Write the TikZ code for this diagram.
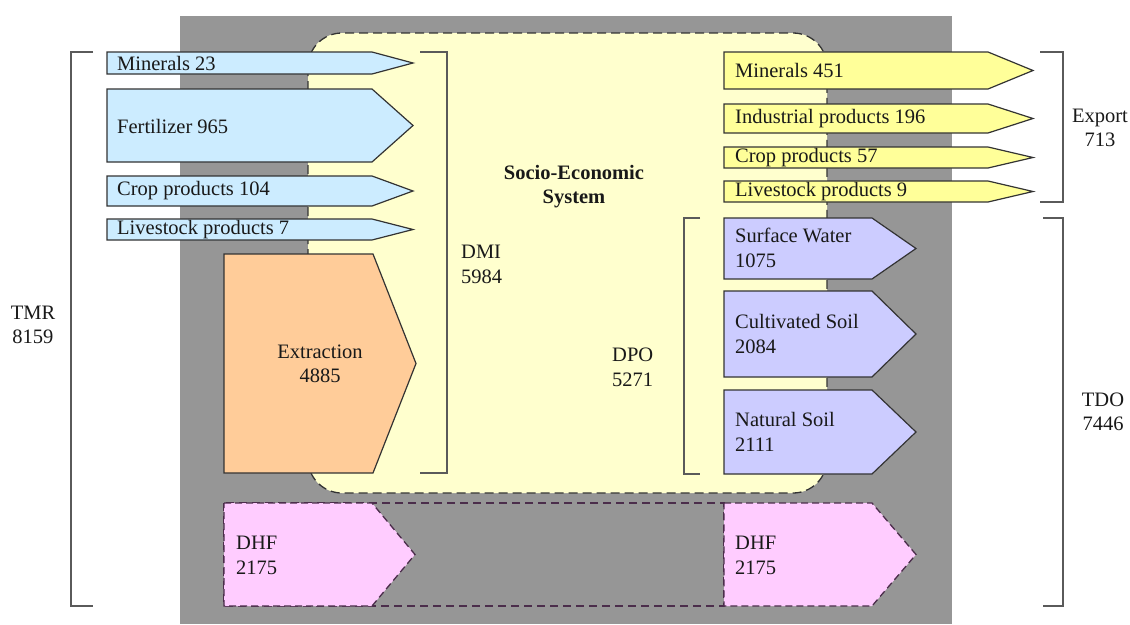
\documentclass[tikz,border=0pt]{standalone}
\usepackage{fontspec}
\setmainfont{Liberation Serif}
\definecolor{bggray}{RGB}{150,150,150}
\definecolor{sysyellow}{RGB}{255,255,206}
\definecolor{inblue}{RGB}{204,236,255}
\definecolor{outyellow}{RGB}{255,255,153}
\definecolor{dpoviolet}{RGB}{204,204,255}
\definecolor{extorange}{RGB}{255,204,153}
\definecolor{dhfpink}{RGB}{255,204,255}
\definecolor{edgecol}{RGB}{51,51,51}
\definecolor{dhfedge}{RGB}{75,45,75}
\definecolor{brackcol}{RGB}{90,90,90}
\definecolor{txtcol}{RGB}{25,25,25}
\newcommand{\flowarrow}[6]{\filldraw[#1] (#2,#3) -- (#4,#3) -- (#5,{(#3+#6)/2}) -- (#4,#6) -- (#2,#6) -- cycle;}
\begin{document}
\begin{tikzpicture}[x=1pt,y=-1pt,
  flow/.style={draw=edgecol,line width=1.2pt,line join=miter},
  dflow/.style={draw=dhfedge,line width=1.3pt,dash pattern=on 7pt off 4pt,fill=dhfpink},
  lbl/.style={font=\fontsize{20.5}{25}\selectfont,inner sep=0pt,align=left,text=txtcol},
  clbl/.style={font=\fontsize{20.5}{24}\selectfont,inner sep=0pt,align=center,text=txtcol},
  brack/.style={draw=brackcol,line width=1.5pt}]
\useasboundingbox (0,0) rectangle (1130,624);
\fill[white] (0,0) rectangle (1130,624);
% background system
\fill[bggray] (180,16) rectangle (952,624);
% socio-economic system
\filldraw[fill=sysyellow,draw=edgecol,line width=1.3pt,dash pattern=on 9pt off 5pt,rounded corners=34pt] (308,33) rectangle (827,493);
% DHF band
\draw[draw=dhfedge,line width=1.3pt,dash pattern=on 8pt off 5pt] (224,503) rectangle (724,606);
% inputs
\flowarrow{flow,fill=inblue}{107}{52}{372}{413}{74}
\flowarrow{flow,fill=inblue}{107}{89}{372}{413}{162}
\flowarrow{flow,fill=inblue}{107}{176}{372}{413}{206}
\flowarrow{flow,fill=inblue}{107}{219}{372}{413}{240}
\flowarrow{flow,fill=extorange}{224}{254}{373}{416}{473}
% exports
\flowarrow{flow,fill=outyellow}{724}{52}{988}{1033}{89}
\flowarrow{flow,fill=outyellow}{724}{104}{988}{1033}{133}
\flowarrow{flow,fill=outyellow}{724}{147}{988}{1033}{168}
\flowarrow{flow,fill=outyellow}{724}{181}{988}{1033}{202}
% DPO
\flowarrow{flow,fill=dpoviolet}{724}{218}{872}{916}{279}
\flowarrow{flow,fill=dpoviolet}{724}{291}{872}{916}{377}
\flowarrow{flow,fill=dpoviolet}{724}{390}{872}{916}{474}
% DHF
\flowarrow{dflow}{224}{503}{372}{415}{606}
\flowarrow{dflow}{724}{503}{872}{916}{606}
% brackets
\draw[brack] (93,52) -- (71,52) -- (71,606) -- (93,606);
\draw[brack] (420,52) -- (447,52) -- (447,473) -- (420,473);
\draw[brack] (1040,52) -- (1063,52) -- (1063,202) -- (1040,202);
\draw[brack] (700,218) -- (684,218) -- (684,474) -- (700,474);
\draw[brack] (1043,218) -- (1063,218) -- (1063,606) -- (1043,606);
% labels
\node[lbl,anchor=west] (min23) at (117,63) {Minerals 23};
\node[lbl,anchor=west] (fert) at (117,126) {Fertilizer 965};
\node[lbl,anchor=west] (crop104) at (117,191) {Crop products 104};
\node[lbl,anchor=west] (live7) at (117,229.5) {Livestock products 7};
\node[clbl] (extr) at (320,364) {Extraction\\4885};
\node[lbl,anchor=west] (min451) at (735,70.5) {Minerals 451};
\node[lbl,anchor=west] (ind) at (735,118.5) {Industrial products 196};
\node[lbl,anchor=west] (crop57) at (735,157.5) {Crop products 57};
\node[lbl,anchor=west] (live9) at (735,191.5) {Livestock products 9};
\node[lbl,anchor=west] (sw) at (735,248) {Surface Water\\1075};
\node[lbl,anchor=west] (cs) at (735,334) {Cultivated Soil\\2084};
\node[lbl,anchor=west] (ns) at (735,432) {Natural Soil\\2111};
\node[lbl,anchor=west] (dhf1) at (236,555) {DHF\\2175};
\node[lbl,anchor=west] (dhf2) at (735,555) {DHF\\2175};
\node[clbl,font=\fontsize{20.5}{24}\selectfont\bfseries] (ses) at (574,187) {Socio-Economic\\System};
\node[lbl,anchor=west] (dmi) at (461,264) {DMI\\5984};
\node[lbl,anchor=west] (dpo) at (612,367) {DPO\\5271};
\node[clbl] (tmr) at (33,325) {TMR\\8159};
\node[clbl] (exp) at (1100,128) {Export\\713};
\node[clbl] (tdo) at (1103,412) {TDO\\7446};
\end{tikzpicture}
\end{document}
